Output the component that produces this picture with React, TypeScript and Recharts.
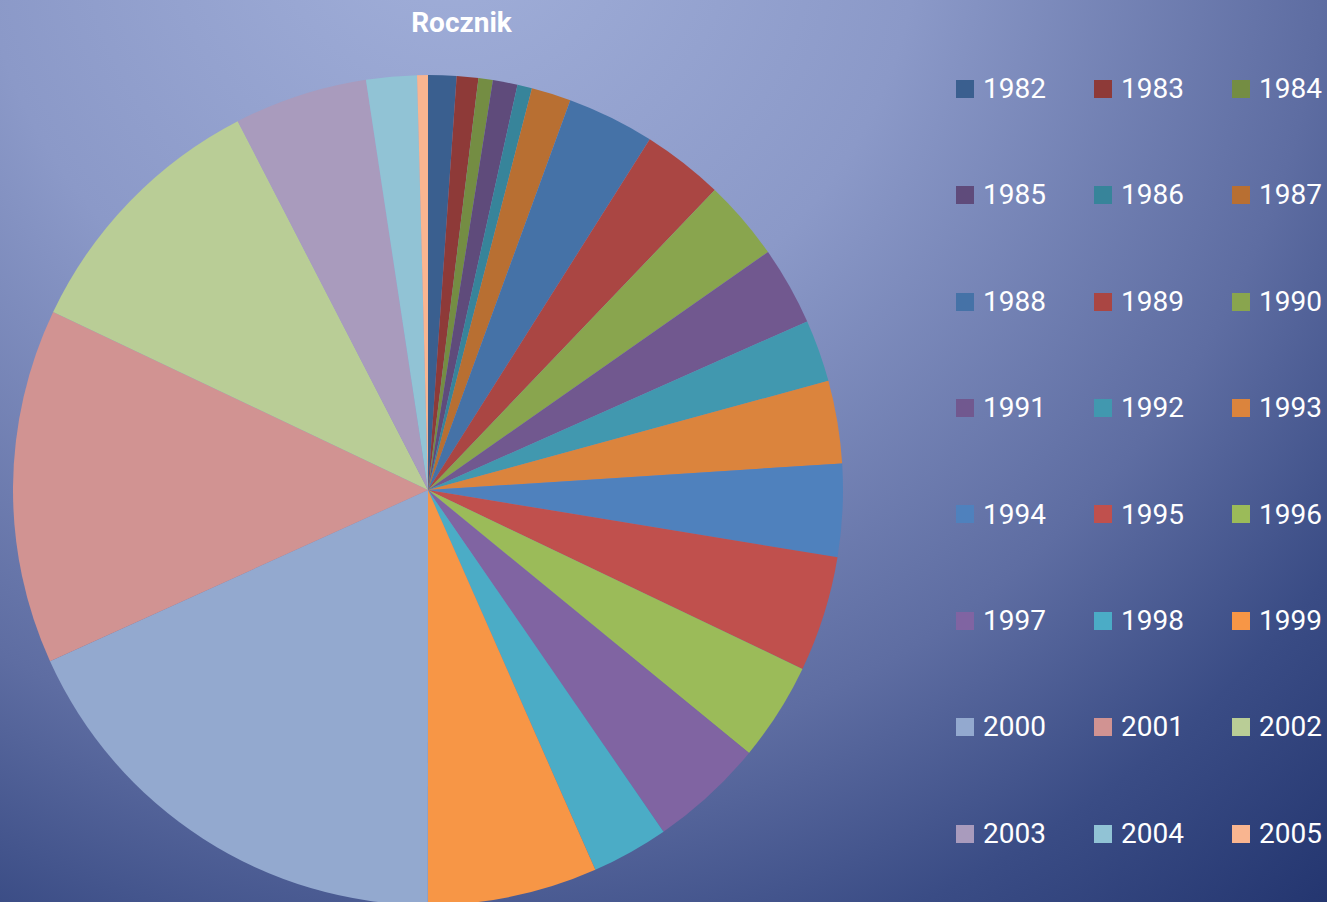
import React from 'react';
import { PieChart, Pie, Cell, Legend } from 'recharts';

const years = [
  '1982', '1983', '1984', '1985', '1986', '1987', '1988', '1989',
  '1990', '1991', '1992', '1993', '1994', '1995', '1996', '1997',
  '1998', '1999', '2000', '2001', '2002', '2003', '2004', '2005',
];

const shares = [
  1.10, 0.84, 0.56, 0.96, 0.57, 1.54, 3.40, 3.17,
  3.14, 3.06, 2.42, 3.22, 3.61, 4.50, 3.83, 4.47,
  3.00, 6.61, 18.22, 13.83, 10.36, 5.19, 1.97, 0.42,
];

const colors = [
  '#3A5F8F', '#8E3A38', '#748D43', '#5F4B7B', '#37849A', '#B86F32',
  '#4572A7', '#AA4643', '#89A54E', '#71588F', '#4198AF', '#DB843D',
  '#4F81BD', '#C0504D', '#9BBB59', '#8064A2', '#4BACC6', '#F79646',
  '#93A9CF', '#D19392', '#B9CD96', '#A99BBD', '#91C3D5', '#F9B590',
];

const title = 'Rocznik';

const data = years.map((y, i) => ({ name: y, value: shares[i], color: colors[i] }));

const FONT = 'Roboto, "Open Sans", sans-serif';

const renderLegend = (props: any) => {
  const payload = props.payload || [];
  return (
    <div style={{ position: 'relative', width: 1327, height: 902 }}>
      {payload.map((entry: any, i: number) => {
        const col = i % 3;
        const row = Math.floor(i / 3);
        const cy = 88.7 + row * 106.4;
        const mx = 956 + col * 138;
        return (
          <React.Fragment key={entry.value}>
            <div
              style={{
                position: 'absolute',
                left: mx,
                top: cy - 9,
                width: 18,
                height: 18,
                background: entry.color,
              }}
            />
            <div
              style={{
                position: 'absolute',
                left: mx + 27,
                top: cy - 13.65,
                fontFamily: FONT,
                fontSize: 28,
                lineHeight: '28px',
                color: '#ffffff',
                whiteSpace: 'nowrap',
              }}
            >
              {entry.value}
            </div>
          </React.Fragment>
        );
      })}
    </div>
  );
};

export default function App() {
  return (
    <div
      style={{
        position: 'absolute',
        left: 0,
        top: 0,
        width: 1327,
        height: 902,
        overflow: 'hidden',
        background:
          'radial-gradient(circle 1350px at 450px -100px, #A2B0DA 0%, #8B99C8 35%, #5E6DA2 65%, #3A4C85 82%, #22346E 100%)',
      }}
    >
      <div
        style={{
          position: 'absolute',
          left: 0,
          top: 9.4,
          width: 923,
          textAlign: 'center',
          fontFamily: FONT,
          fontWeight: 700,
          fontSize: 28,
          lineHeight: '28px',
          color: '#ffffff',
        }}
      >
        {title}
      </div>
      <PieChart width={1327} height={902} margin={{ top: 0, right: 0, bottom: 0, left: 0 }}>
        <Pie
          data={data}
          dataKey="value"
          nameKey="name"
          cx={428}
          cy={490}
          outerRadius={415}
          startAngle={90}
          endAngle={-270}
          stroke="none"
          isAnimationActive={false}
        >
          {data.map((d) => (
            <Cell key={d.name} fill={d.color} />
          ))}
        </Pie>
        <Legend
          layout="horizontal"
          align="center"
          verticalAlign="middle"
          content={renderLegend}
          wrapperStyle={{ position: 'absolute', left: 0, top: 0, width: 1327, height: 902, pointerEvents: 'none' }}
        />
      </PieChart>
    </div>
  );
}
